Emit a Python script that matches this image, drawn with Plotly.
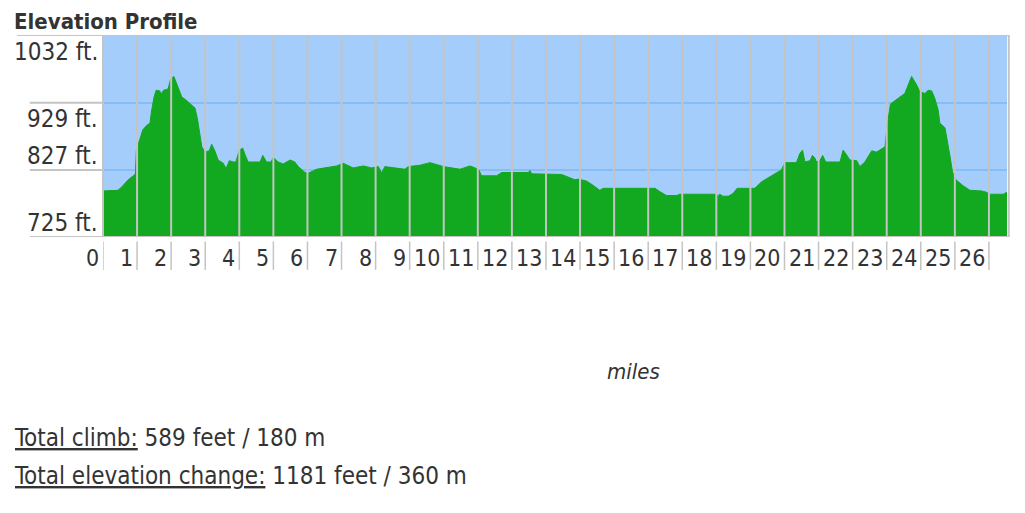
import plotly.graph_objects as go

# ---- data ----
miles = [0.0, 0.44, 0.55, 0.74, 0.89, 0.95, 0.98, 1.06, 1.17, 1.29,
         1.38, 1.42, 1.50, 1.56, 1.61, 1.67, 1.70, 1.78, 1.91, 1.98,
         2.08, 2.17, 2.26, 2.31, 2.44, 2.55, 2.70, 2.77, 2.83, 2.90,
         2.99, 3.12, 3.19, 3.29, 3.38, 3.53, 3.61, 3.71, 3.82, 3.90,
         4.00, 4.10, 4.17, 4.26, 4.61, 4.69, 4.80, 4.93, 5.00, 5.14,
         5.29, 5.49, 5.63, 5.73, 5.93, 6.02, 6.27, 6.56, 6.86, 7.05,
         7.34, 7.64, 7.88, 8.08, 8.18, 8.27, 8.62, 8.86, 8.96, 9.30,
         9.60, 9.79, 9.99, 10.48, 10.77, 10.92, 11.03, 11.11, 11.55, 11.70,
         12.48, 12.53, 12.58, 13.46, 13.56, 13.75, 13.85, 13.95, 14.19, 14.34,
         14.58, 14.68, 16.20, 16.34, 16.54, 16.83, 16.93, 18.01, 18.06, 18.10,
         18.19, 18.35, 18.49, 18.61, 19.13, 19.33, 19.57, 19.82, 19.91, 20.01,
         20.35, 20.45, 20.53, 20.60, 20.75, 20.82, 20.89, 20.94, 21.04, 21.12,
         21.21, 21.63, 21.72, 21.82, 21.92, 22.12, 22.21, 22.36, 22.56, 22.70,
         22.90, 22.95, 23.01, 23.11, 23.34, 23.53, 23.63, 23.73, 23.88, 23.97,
         24.12, 24.22, 24.32, 24.41, 24.51, 24.56, 24.71, 24.77, 24.85, 24.93,
         25.03, 25.24, 25.44, 25.78, 25.93, 26.03, 26.42, 26.53]

elevation_ft = [795, 796, 801, 812, 818, 821, 857, 869, 888, 895,
                898, 915, 938, 948, 948, 947, 942, 948, 950, 964,
                969, 956, 946, 938, 933, 928, 921, 905, 885, 862,
                854, 856, 866, 855, 842, 837, 829, 841, 839, 839,
                857, 860, 850, 839, 839, 849, 839, 839, 846, 839,
                836, 842, 839, 832, 823, 822, 828, 830, 833, 837,
                830, 833, 830, 832, 822, 832, 830, 828, 832, 834,
                838, 835, 832, 828, 833, 830, 827, 818, 818, 823,
                823, 826, 821, 820, 818, 815, 812, 813, 810, 805,
                796, 799, 799, 794, 788, 788, 790, 790, 787, 790,
                787, 787, 791, 799, 799, 809, 817, 824, 827, 838,
                838, 852, 857, 839, 841, 849, 845, 839, 841, 849,
                839, 839, 857, 850, 842, 841, 832, 839, 856, 854,
                860, 862, 893, 927, 936, 943, 956, 969, 956, 946,
                943, 948, 947, 936, 918, 898, 891, 875, 850, 824,
                812, 803, 796, 795, 793, 790, 790, 793]

y_ticks = [725, 827, 929, 1032]
y_tick_labels = ["725 ft.", "827 ft.", "929 ft.", "1032 ft."]
x_ticks = list(range(0, 27))
x_tick_labels = [str(v) for v in x_ticks]

title_text = "Elevation Profile"
x_title = "miles"
stats = [("Total climb:", "589 feet / 180 m"),
         ("Total elevation change:", "1181 feet / 360 m")]

FONT = "DejaVu Sans Condensed, DejaVu Sans, sans-serif"
TXT = "#333333"
GRAY = "#c4c4c4"
GREEN = "#12a820"
BLUE_BG = "#a4cdfc"
BLUE_GRID = "#86bdf7"

fig = go.Figure()
fig.add_trace(go.Scatter(
    x=miles, y=elevation_ft, mode="lines", fill="tozeroy",
    line=dict(color=GREEN, width=1), fillcolor=GREEN, hoverinfo="skip",
))

shapes = []
# vertical mile lines in the plot (drawn over the profile)
for m in x_ticks[1:]:
    shapes.append(dict(type="line", xref="x", yref="paper", x0=m, x1=m, y0=0, y1=1,
                       line=dict(color=GRAY, width=2), layer="above"))
# separators under the axis, between tick labels
for m in x_ticks:
    shapes.append(dict(type="line", xref="x", yref="paper", x0=m, x1=m, y0=-0.022, y1=-0.163,
                       line=dict(color=GRAY, width=1.5), layer="above"))
# label-cell separators on the left
for v in y_ticks[:-1]:
    shapes.append(dict(type="line", xref="paper", yref="y", x0=-0.081, x1=0, y0=v, y1=v,
                       line=dict(color=GRAY, width=2), layer="above"))
shapes.append(dict(type="line", xref="paper", yref="y", x0=-0.095, x1=1.002,
                   y0=y_ticks[-1], y1=y_ticks[-1], line=dict(color=GRAY, width=2), layer="above"))
shapes.append(dict(type="line", xref="paper", yref="y", x0=-0.002, x1=1.002,
                   y0=y_ticks[0], y1=y_ticks[0], line=dict(color=GRAY, width=2), layer="above"))
shapes.append(dict(type="line", xref="paper", yref="paper", x0=0, x1=0, y0=0, y1=1,
                   line=dict(color=GRAY, width=2), layer="above"))
shapes.append(dict(type="line", xref="paper", yref="paper", x0=1.002, x1=1.002, y0=0, y1=1,
                   line=dict(color=GRAY, width=2), layer="above"))

annotations = []
yshifts = {725: 14.5, 827: 13.5, 929: -16.5, 1032: -16.5}
for v, lab in zip(y_ticks, y_tick_labels):
    annotations.append(dict(xref="paper", yref="y", x=0, y=v, text=lab, showarrow=False,
                            xanchor="right", yanchor="middle", xshift=-3, yshift=yshifts[v],
                            font=dict(family=FONT, size=24, color=TXT)))
for v, lab in zip(x_ticks, x_tick_labels):
    annotations.append(dict(xref="x", yref="paper", x=v, y=-0.104, text=lab, showarrow=False,
                            xanchor="right", yanchor="middle", xshift=-2,
                            font=dict(family=FONT, size=23, color=TXT)))
annotations.append(dict(xref="paper", yref="paper", x=-0.1006, y=1.069, text="<b>" + title_text + "</b>",
                        showarrow=False, xanchor="left", yanchor="middle",
                        font=dict(family=FONT, size=22, color=TXT)))
annotations.append(dict(xref="paper", yref="paper", x=0.587, y=-0.668, text="<i>" + x_title + "</i>",
                        showarrow=False, xanchor="center", yanchor="middle",
                        font=dict(family=FONT, size=22, color=TXT)))
for i, (lab, val) in enumerate(stats):
    annotations.append(dict(xref="paper", yref="paper", x=-0.1006, y=-0.995 - i * 0.188,
                            text="<u>" + lab + "</u> " + val, showarrow=False,
                            xanchor="left", yanchor="middle",
                            font=dict(family=FONT, size=24, color=TXT)))

fig.update_layout(
    width=1025, height=513,
    margin=dict(l=95, r=26, t=27, b=284),
    paper_bgcolor="white", plot_bgcolor=BLUE_BG,
    showlegend=False,
    xaxis=dict(range=[0, 26.53], showgrid=False, zeroline=False, showticklabels=False,
               ticks="", fixedrange=True),
    yaxis=dict(range=[725, 1032], tickvals=[827, 929], showgrid=True, gridcolor=BLUE_GRID,
               gridwidth=2, zeroline=False, showticklabels=False, ticks="", fixedrange=True),
    shapes=shapes, annotations=annotations,
)

fig.write_html("out.html")
